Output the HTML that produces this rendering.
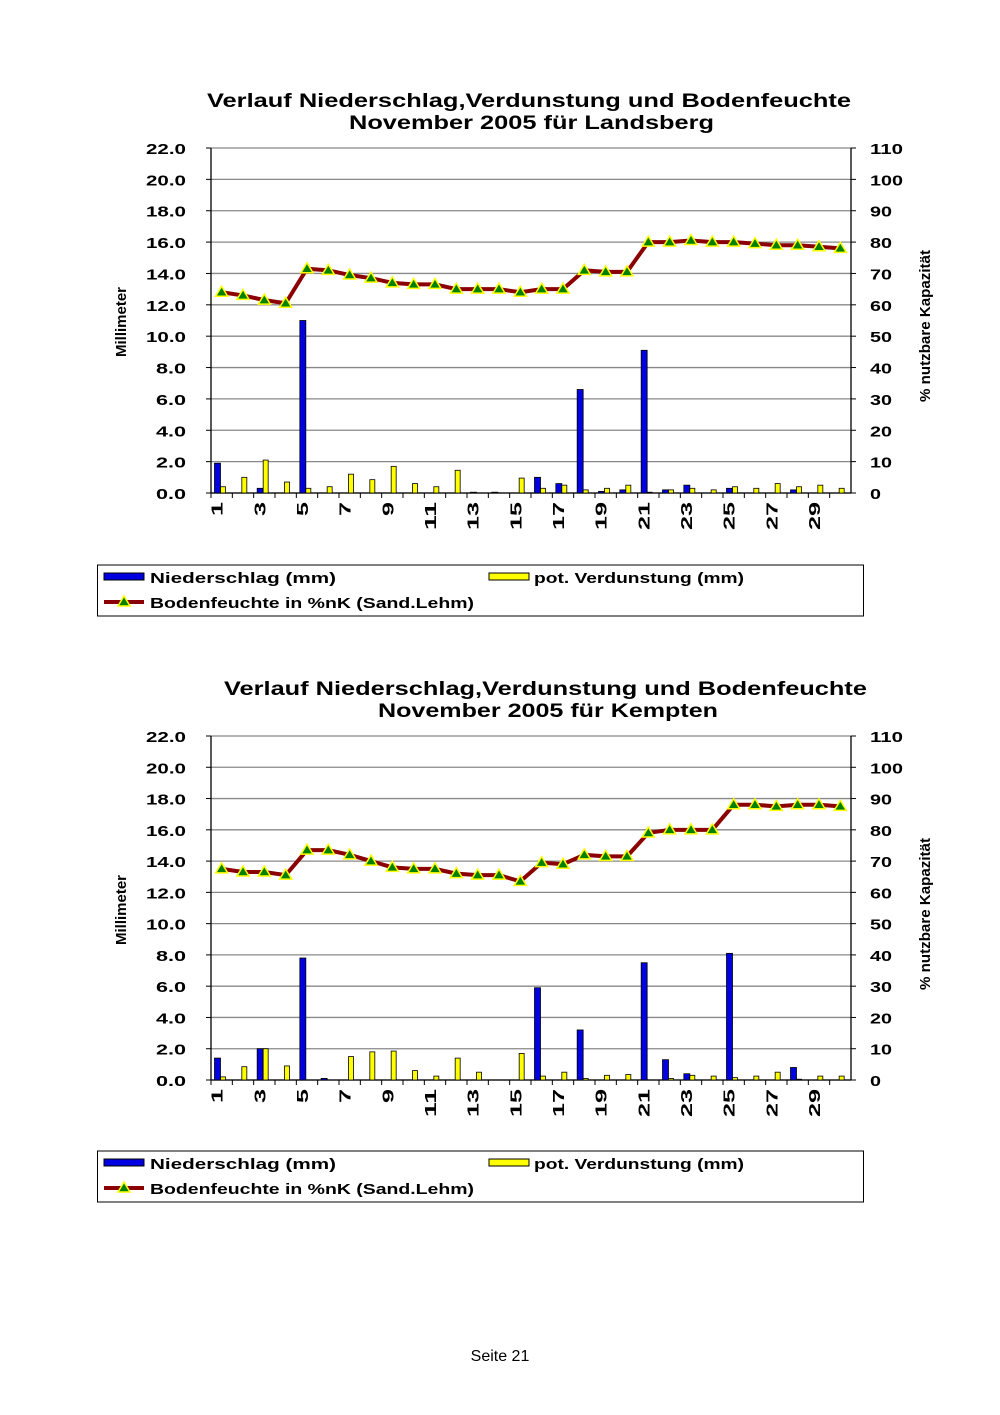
<!DOCTYPE html>
<html><head><meta charset="utf-8"><style>
body{margin:0;background:#fff;}
svg{display:block;font-family:"Liberation Sans",Arial,sans-serif;}
</style></head><body>
<svg id="s" width="1000" height="1415" xmlns="http://www.w3.org/2000/svg"></svg>
<script>
const S=document.getElementById('s');let h='';
function T(x,y,s,txt,len,extra){return `<text x="${x}" y="${y}" font-size="${s}" font-weight="bold" textLength="${len}" lengthAdjust="spacingAndGlyphs" ${extra||''}>${txt}</text>`;}
function chart(top,bot,title2,tx1,tx2,blue,yel,soil,legY){
 const L=211,R=851,sl=(R-L)/30,ph=bot-top;
 h+=T(tx1[0],top-41,19,"Verlauf Niederschlag,Verdunstung und Bodenfeuchte",tx1[1]);
 h+=T(tx2[0],top-19,19,title2,tx2[1]);
 for(let i=0;i<=11;i++){const y=bot-ph*i/11;
  h+=`<line x1="${L}" x2="${R}" y1="${y}" y2="${y}" stroke="#888" stroke-width="1.3"/>`;
  h+=`<line x1="${L-5}" x2="${L}" y1="${y}" y2="${y}" stroke="#000"/><line x1="${R}" x2="${R+5}" y1="${y}" y2="${y}" stroke="#000"/>`;
  const s=(i*2).toFixed(1),w=s.length==4?40:30;
  h+=T(186-w,y+6,15,s,w);
  const r=String(i*10);h+=T(870,y+6,15,r,r.length*11);}
 h+=`<line x1="${L}" x2="${L}" y1="${top}" y2="${bot}" stroke="#000" stroke-width="1.3"/><line x1="${R}" x2="${R}" y1="${top}" y2="${bot}" stroke="#000" stroke-width="1.3"/><line x1="${L}" x2="${R}" y1="${bot}" y2="${bot}" stroke="#000" stroke-width="1.3"/>`;
 const k=ph/22;
 for(let d=0;d<30;d++){const x=L+d*sl;
  h+=`<line x1="${x}" x2="${x}" y1="${bot}" y2="${bot+5}" stroke="#000"/>`;
  if(blue[d]>0)h+=`<rect x="${x+3.5}" y="${bot-blue[d]*k}" width="6" height="${blue[d]*k}" fill="#0000e0" stroke="#000" stroke-width="0.8"/>`;
  if(yel[d]>0)h+=`<rect x="${x+9.5}" y="${bot-yel[d]*k}" width="5" height="${yel[d]*k}" fill="#ffff00" stroke="#000" stroke-width="0.8"/>`;
  if(d%2==0){const cx=x+sl/2+1,s=String(d+1);h+=`<text transform="translate(${cx},${bot+9}) rotate(-90)" font-size="16" font-weight="bold" text-anchor="end" textLength="${s.length*14}" lengthAdjust="spacingAndGlyphs">${s}</text>`;}
 }
 let p=soil.map((v,d)=>`${L+d*sl+sl/2},${bot-v*ph/110}`).join(' ');
 h+=`<polyline points="${p}" fill="none" stroke="#8b0000" stroke-width="4"/>`;
 soil.forEach((v,d)=>{const x=L+d*sl+sl/2,y=bot-v*ph/110;h+=`<polygon points="${x},${y-6} ${x-6},${y+4} ${x+6},${y+4}" fill="#008000" stroke="#ffff00" stroke-width="1.5"/>`;});
 h+=`<text transform="translate(126,${top+209}) rotate(-90)" font-size="15" font-weight="bold" textLength="70" lengthAdjust="spacingAndGlyphs">Millimeter</text>`;
 h+=`<text transform="translate(930,${top+254}) rotate(-90)" font-size="15" font-weight="bold" textLength="152" lengthAdjust="spacingAndGlyphs">% nutzbare Kapazität</text>`;
 h+=`<rect x="97.5" y="${legY}" width="766" height="51" fill="none" stroke="#000"/>`;
 h+=`<rect x="104" y="${legY+8}" width="40" height="7" fill="#0000e0" stroke="#000"/>`+T(150,legY+18,15,"Niederschlag (mm)",186);
 h+=`<rect x="489" y="${legY+8}" width="40" height="7" fill="#ffff00" stroke="#000"/>`+T(534,legY+18,15,"pot. Verdunstung (mm)",210);
 h+=`<line x1="104" x2="144" y1="${legY+37}" y2="${legY+37}" stroke="#8b0000" stroke-width="4"/><polygon points="124,${legY+31} 118,${legY+41} 130,${legY+41}" fill="#008000" stroke="#ffff00" stroke-width="1.5"/>`+T(150,legY+43,15,"Bodenfeuchte in %nK (Sand.Lehm)",324);
}
chart(148,493,"November 2005 für Landsberg",[207,644],[349,365],
[1.9,0,0.3,0,11,0,0,0,0,0,0,0,0.05,0.05,0,1.0,0.6,6.6,0.1,0.2,9.1,0.2,0.5,0,0.3,0,0,0.2,0,0],
[0.4,1.0,2.1,0.7,0.3,0.4,1.2,0.85,1.7,0.6,0.4,1.45,0,0,0.95,0.3,0.5,0.2,0.3,0.5,0.05,0.2,0.3,0.2,0.4,0.3,0.6,0.4,0.5,0.3],
[64,63,61.5,60.5,71.5,71,69.5,68.5,67,66.5,66.5,65,65,65,64,65,65,71,70.5,70.5,80,80,80.5,80,80,79.5,79,79,78.5,78],565);
chart(736,1080,"November 2005 für Kempten",[224,643],[378,340],
[1.4,0,2.0,0,7.8,0.1,0,0,0,0,0,0,0,0,0,5.9,0,3.2,0,0,7.5,1.3,0.4,0,8.1,0,0,0.8,0,0],
[0.2,0.85,2.0,0.9,0,0,1.5,1.8,1.85,0.6,0.25,1.4,0.5,0,1.7,0.25,0.5,0.1,0.3,0.35,0,0.1,0.3,0.25,0.15,0.25,0.5,0.05,0.25,0.25],
[67.5,66.5,66.5,65.5,73.5,73.5,72,70,68,67.5,67.5,66,65.5,65.5,63.5,69.5,69,72,71.5,71.5,79,80,80,80,88,88,87.5,88,88,87.5],1151);
h+=`<text x="500" y="1361" font-size="16" text-anchor="middle">Seite 21</text>`;
S.innerHTML=h;
</script>
</body></html>
